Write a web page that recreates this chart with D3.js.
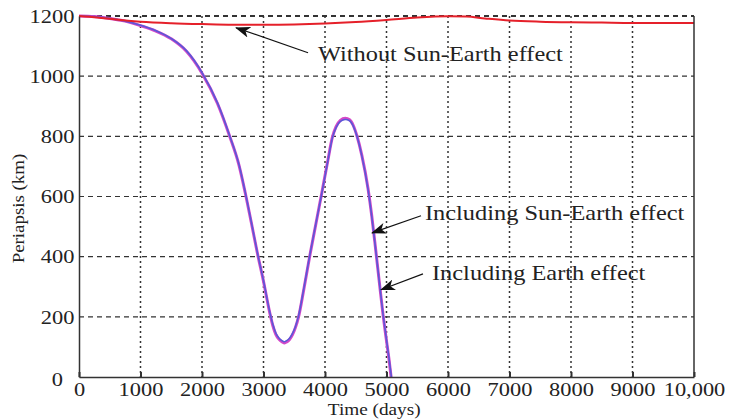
<!DOCTYPE html>
<html>
<head>
<meta charset="utf-8">
<script src="https://cdnjs.cloudflare.com/ajax/libs/d3/7.8.5/d3.min.js"></script>
<style>
  body { margin: 0; background: #fff; }
  text { font-family: "Liberation Serif", "Times New Roman", serif; fill: #222; }
</style>
</head>
<body>
<div id="chart"></div>
<script>
var margin = {top: 16, right: 35, bottom: 43, left: 79},
  width = 729 - margin.left - margin.right,
  height = 420 - margin.top - margin.bottom;

// ticks
var xTicks = [0,1000,2000,3000,4000,5000,6000,7000,8000,9000,10000];
var xTickLabels = ["0","1000","2000","3000","4000","5000","6000","7000","8000","9000","10,000"];
var yTicks = [0,200,400,600,800,1000,1200];

// Without Sun-Earth effect (red)
var timeWithout = [0,300,600,1000,1500,2000,2500,3000,3500,4000,4500,5000,5500,6000,6300,6600,7000,7500,8000,8500,9000,9500,10000];
var periWithout = [1200,1195,1188,1181,1176,1173,1171,1171,1172,1175,1180,1187,1195,1199,1198,1192,1185,1181,1179,1178,1177,1177,1177];

// Including Earth effect (magenta)
var timeEarth = [0,250,500,750,1000,1250,1500,1750,2000,2250,2450,2600,2700,2800,2900,3000,3100,3150,3200,3250,3300,3335,3370,3420,3470,3520,3570,3650,3750,3850,3950,4050,4120,4180,4250,4330,4400,4460,4520,4600,4700,4760,4820,4880,4945,5000,5040,5075];
var periEarth = [1200,1198,1192,1183,1168,1150,1124,1082,1010,910,800,705,615,515,412,318,215,172,142,126,117,113,116,124,140,165,200,285,400,507,614,724,797,832,853,860,855,836,801,736,626,536,431,321,205,120,60,0];

// Including Sun-Earth effect (blue)
var timeSunEarth = [0,250,500,750,1000,1250,1500,1750,2000,2250,2450,2600,2700,2800,2900,3000,3100,3150,3200,3250,3300,3335,3370,3420,3470,3520,3570,3650,3750,3850,3950,4050,4120,4180,4250,4330,4400,4460,4520,4600,4700,4760,4820,4880,4945,5000,5040,5080];
var periSunEarth = [1200,1198,1192,1183,1169,1151,1125,1084,1012,912,802,707,617,517,414,320,218,176,146,130,121,117,120,128,144,168,203,288,402,508,613,722,795,829,850,856,852,834,800,734,624,534,430,322,207,124,64,0];

// annotations: label, text position, arrow start, arrow tip (data units)
var annLabels = ["Without Sun-Earth effect","Including Sun-Earth effect","Including Earth effect"];
var annText = [[3886,1052],[5626,522],[5740,323]];
var annFrom = [[3724,1078],[5561,536],[5593,343]];
var annTip = [[2553,1161],[4764,479],[4911,290]];

var x = d3.scaleLinear().domain([0,10000]).range([0,width]);
var y = d3.scaleLinear().domain([0,1200]).range([height,0]);

var svg = d3.select('#chart')
  .append('svg')
    .attr('width', width + margin.left + margin.right)
    .attr('height', height + margin.top + margin.bottom)
    .style('background', '#fff')
    .append('g')
      .attr('transform', 'translate(' + margin.left + ',' + margin.top + ')');

var defs = svg.append('defs');
defs.append('marker')
  .attr('id', 'arrow')
  .attr('viewBox', '0 0 15 11')
  .attr('refX', 14).attr('refY', 5.5)
  .attr('markerWidth', 15).attr('markerHeight', 11)
  .attr('markerUnits', 'userSpaceOnUse')
  .attr('orient', 'auto')
  .append('path')
    .attr('d', 'M0,0 L15,5.5 L0,11 L4,5.5 Z')
    .attr('fill', '#111');

// grid
svg.append('g').selectAll('line')
  .data(yTicks.filter(function(d){ return d > 0; })).enter()
  .append('line')
    .attr('x1', 0).attr('x2', width)
    .attr('y1', function(d){ return y(d); })
    .attr('y2', function(d){ return y(d); })
    .attr('stroke', '#333')
    .attr('stroke-width', function(d){ return d == 1200 ? 2 : 1.2; })
    .attr('stroke-dasharray', '5,4');

svg.append('g').selectAll('line')
  .data(xTicks.filter(function(d){ return d > 0 && d < 10000; })).enter()
  .append('line')
    .attr('x1', function(d){ return x(d); })
    .attr('x2', function(d){ return x(d); })
    .attr('y1', 0).attr('y2', height)
    .attr('stroke', '#333')
    .attr('stroke-width', 1.5)
    .attr('stroke-dasharray', '2,3');

// curves
var line = d3.line()
  .x(function(d){ return x(d[0]); })
  .y(function(d){ return y(d[1]); })
  .curve(d3.curveMonotoneX);

svg.append('path')
  .datum(d3.zip(timeEarth, periEarth))
  .attr('d', line)
  .attr('fill', 'none')
  .attr('stroke', '#d448c8')
  .attr('stroke-width', 3);

svg.append('path')
  .datum(d3.zip(timeSunEarth, periSunEarth))
  .attr('d', line)
  .attr('fill', 'none')
  .attr('stroke', '#5a58d8')
  .attr('stroke-width', 1.6);

svg.append('path')
  .datum(d3.zip(timeWithout, periWithout))
  .attr('d', line)
  .attr('fill', 'none')
  .attr('stroke', '#e5202a')
  .attr('stroke-width', 2);

// axes
var xAxis = svg.append('g')
  .attr('transform', 'translate(0,' + height + ')')
  .call(d3.axisBottom(x)
    .tickValues(xTicks)
    .tickFormat(function(d,i){ return xTickLabels[i]; })
    .tickSizeInner(-5).tickSizeOuter(0).tickPadding(5));

var yAxis = svg.append('g')
  .call(d3.axisLeft(y)
    .tickValues(yTicks)
    .tickFormat(d3.format('d'))
    .tickSizeInner(0).tickSizeOuter(0).tickPadding(4));

[xAxis, yAxis].forEach(function(ax){
  ax.select('.domain').attr('stroke', '#333').attr('stroke-width', 1.5);
  ax.selectAll('.tick line').attr('stroke', '#333').attr('stroke-width', 2);
  ax.selectAll('.tick text')
    .attr('font-family', '"Liberation Serif", serif')
    .attr('font-size', 19.5)
    .attr('fill', '#222')
    .attr('transform', 'scale(1.15,1)');
});
// the zero label of the y axis sits a bit lower-left in the original
yAxis.selectAll('.tick').filter(function(d){ return d === 0; })
  .select('text').attr('dx', -10).attr('dy', '0.45em');

// right border
svg.append('line')
  .attr('x1', width).attr('x2', width)
  .attr('y1', 0).attr('y2', height)
  .attr('stroke', '#333').attr('stroke-width', 1.5);

// axis titles
svg.append('text')
  .attr('transform', 'translate(' + (x(4800)) + ',' + (height + 38) + ') scale(1.1,1)')
  .attr('text-anchor', 'middle')
  .attr('font-size', 17.5)
  .text('Time (days)');

svg.append('text')
  .attr('transform', 'translate(' + (-55) + ',' + y(560) + ') rotate(-90) scale(1.08,1)')
  .attr('text-anchor', 'middle')
  .attr('font-size', 17.5)
  .text('Periapsis (km)');

// annotations
annLabels.forEach(function(lab, i){
  svg.append('line')
    .attr('x1', x(annFrom[i][0])).attr('y1', y(annFrom[i][1]))
    .attr('x2', x(annTip[i][0])).attr('y2', y(annTip[i][1]))
    .attr('stroke', '#111').attr('stroke-width', 1.2)
    .attr('marker-end', 'url(#arrow)');
  svg.append('text')
    .attr('transform', 'translate(' + x(annText[i][0]) + ',' + y(annText[i][1]) + ') scale(1.15,1)')
    .attr('font-size', 21.2)
    .text(lab);
});
</script>
</body>
</html>
